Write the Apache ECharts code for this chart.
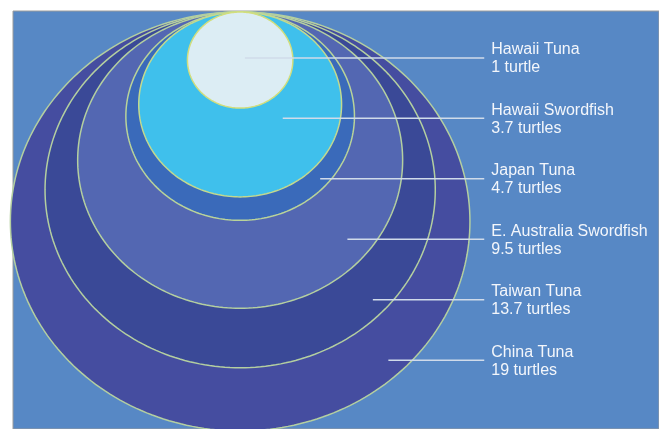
<!DOCTYPE html>
<html><head><meta charset="utf-8">
<script src="https://cdn.jsdelivr.net/npm/echarts@6/dist/echarts.min.js"></script>
<style>html,body{margin:0;padding:0;background:#fff}#c{width:659px;height:429px}</style>
</head><body><div id="c"></div>
<script>
// ---- data ----
const fisheries = ['Hawaii Tuna', 'Hawaii Swordfish', 'Japan Tuna', 'E. Australia Swordfish', 'Taiwan Tuna', 'China Tuna'];
const turtles = [1, 3.7, 4.7, 9.5, 13.7, 19];

// ---- styles ----
const fills = ['#dcedf4', '#3fc0ec', '#3a6aba', '#5367b2', '#3a4997', '#454da0'];
const edges = ['#d2de7c', '#c3d98e', '#b9d39a', '#b4cfa0', '#b4cfa0', '#b4cfa0'];
const leaderReach = [0.09, 0.42, 0.70, 0.66, 0.68, 0.645]; // fraction of each circle's radius where the leader starts
const labelTop = 0.955, labelStep = 1.258, lineEndX = 4.63, textX = 4.763;

const unitText = v => v + (v === 1 ? ' turtle' : ' turtles');

// circles drawn largest first so smaller ones sit on top
const order = turtles.map((v, i) => i).sort((a, b) => turtles[b] - turtles[a]);
const circleData = order.map(i => [0, -Math.sqrt(turtles[i]), turtles[i], i]);
const labelData = turtles.map((v, i) => [textX, -(labelTop + i * labelStep), v, i]);

const chart = echarts.init(document.getElementById('c'), null, {renderer: 'canvas'});
chart.setOption({
  animation: false,
  backgroundColor: '#ffffff',
  grid: {left: 13, top: 11, right: -1, bottom: -1, show: true, backgroundColor: '#5788c5', borderColor: '#9c9c9c', borderWidth: 1},
  xAxis: {type: 'value', min: -4.309, max: 7.945, show: false, splitLine: {show: false}},
  yAxis: {type: 'value', min: -8.677, max: 0.0208, show: false, splitLine: {show: false}},
  series: [
    {
      type: 'custom',
      coordinateSystem: 'cartesian2d',
      clip: false,
      encode: {x: 0, y: 1},
      data: circleData,
      renderItem: function (params, api) {
        const i = api.value(3);
        const s = Math.sqrt(api.value(2));
        const pts = [];
        for (let k = 0; k < 240; k++) {
          const t = k / 240 * 2 * Math.PI;
          pts.push(api.coord([s * Math.sin(t), -s + s * Math.cos(t)]));
        }
        return {
          type: 'polygon',
          shape: {points: pts},
          style: {fill: fills[i], stroke: edges[i], lineWidth: 1.5}
        };
      }
    },
    {
      type: 'custom',
      coordinateSystem: 'cartesian2d',
      clip: false,
      encode: {x: 0, y: 1},
      data: labelData,
      renderItem: function (params, api) {
        const i = api.value(3);
        const v = api.value(2);
        const s = Math.sqrt(v);
        const ly = api.value(1);
        const p0 = api.coord([leaderReach[i] * s, ly]);
        const p1 = api.coord([lineEndX, ly]);
        const pt = api.coord([api.value(0), ly]);
        return {
          type: 'group',
          children: [
            {type: 'line', shape: {x1: p0[0], y1: p0[1], x2: p1[0], y2: p1[1]},
             style: {stroke: '#d0dbea', lineWidth: 1.5}},
            {type: 'text', x: pt[0], y: pt[1] + 1,
             style: {text: fisheries[i] + '\n' + unitText(v), fill: '#f3f6fb',
                     fontSize: 16, fontFamily: '"Liberation Sans", Arial, sans-serif',
                     lineHeight: 18, align: 'left', verticalAlign: 'middle'}}
          ]
        };
      }
    }
  ]
});
</script></body></html>
